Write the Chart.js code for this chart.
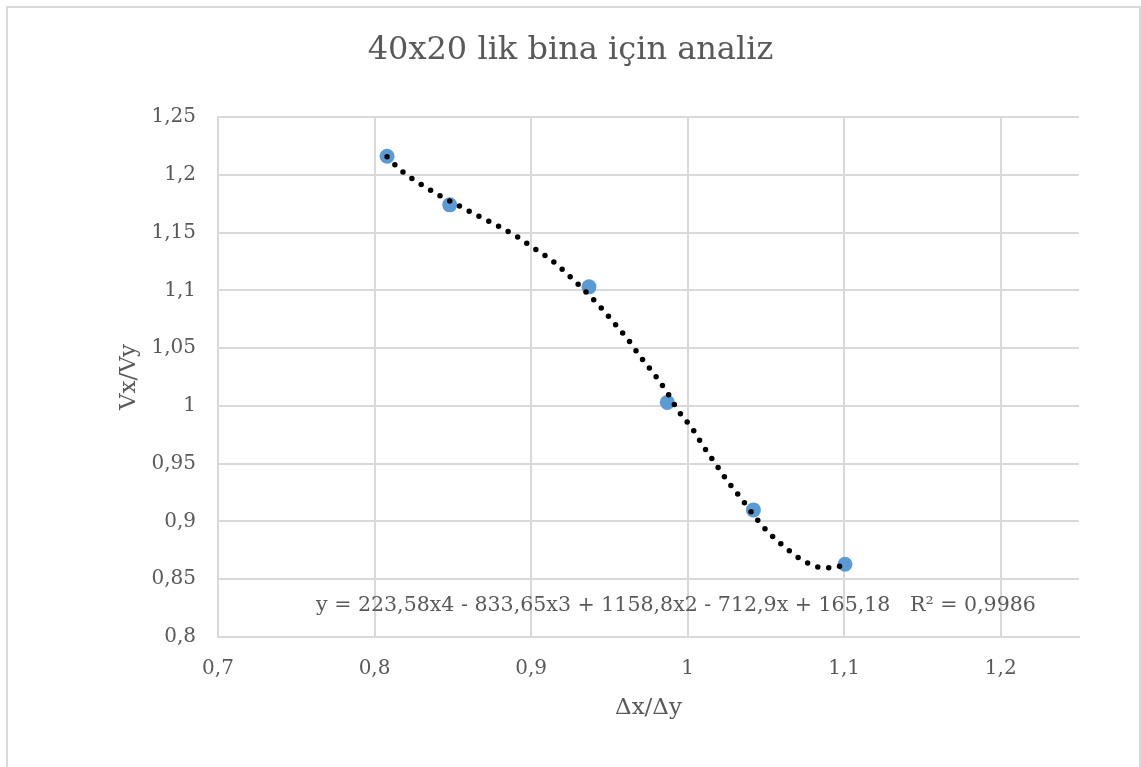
<!DOCTYPE html>
<html>
<head>
<meta charset="utf-8">
<script src="https://cdn.jsdelivr.net/npm/chart.js@4.4.1/dist/chart.umd.min.js"></script>
<style>
  html, body { margin: 0; padding: 0; background: #fff; }
  #wrap { position: relative; width: 1141px; height: 767px; overflow: hidden; }
  #frame { position: absolute; left: 6px; top: 6px; width: 1131px; height: 800px;
           border: 2px solid #d9d9d9; pointer-events: none; }
  canvas { position: absolute; left: 0; top: 0; }
</style>
</head>
<body>
<div id="wrap">
  <canvas id="chart" width="1141" height="767"></canvas>
  <div id="frame"></div>
</div>
<script>
"use strict";

//////// DATA ////////
const chart_title = '40x20 lik bina için analiz';
const x_title = 'Δx/Δy';
const y_title = 'Vx/Vy';
const trend_label = 'y = 223,58x4 - 833,65x3 + 1158,8x2 - 712,9x + 165,18   R² = 0,9986';

// measured points
const pts_x = [0.808, 0.848, 0.937, 0.987, 1.042, 1.1005];
const pts_y = [1.216, 1.174, 1.103, 1.003, 0.910, 0.863];

// trendline
const trend_x = [0.808, 0.818, 0.830, 0.842, 0.854, 0.866, 0.879, 0.891, 0.902, 0.914, 0.924,
                 0.934, 0.944, 0.953, 0.962, 0.970, 0.979, 0.987, 0.994, 1.003, 1.010, 1.018,
                 1.026, 1.035, 1.043, 1.052, 1.063, 1.074, 1.087, 1.094, 1.1005];
const trend_y = [1.2155, 1.2025, 1.1915, 1.1817, 1.1731, 1.1646, 1.1557, 1.1464, 1.1363, 1.125, 1.1129,
                 1.0999, 1.086, 1.0719, 1.0572, 1.0422, 1.0269, 1.0115, 0.9959, 0.9803, 0.9651, 0.9495,
                 0.934, 0.9185, 0.904, 0.890, 0.8767, 0.8659, 0.8599, 0.8602, 0.8631];

const x_min = 0.7, x_max = 1.25, x_step = 0.1;
const y_min = 0.8, y_max = 1.25, y_step = 0.05;

//////// HELPERS ////////
const FONT = "'DejaVu Serif', serif";
const TEXT_COLOR = '#595959';
const GRID_COLOR = '#d9d9d9';

function fmt(v) {
  return String(Number(v.toFixed(2))).replace('.', ',');
}

function to_xy(xs, ys) {
  return xs.map((x, i) => ({x: x, y: ys[i]}));
}

// equation text of the trendline, in the lower part of the plot
const trend_text_plugin = {
  id: 'trend_text',
  afterDatasetsDraw(chart) {
    const ctx = chart.ctx;
    const area = chart.chartArea;
    ctx.save();
    let size = 18;
    ctx.font = size + 'px ' + FONT;
    const w = ctx.measureText(trend_label).width;
    size = size * 720 / w;
    ctx.font = size.toFixed(2) + 'px ' + FONT;
    ctx.fillStyle = TEXT_COLOR;
    ctx.textAlign = 'left';
    ctx.textBaseline = 'middle';
    ctx.fillText(trend_label, area.left + 98, chart.scales.y.getPixelForValue(0.827));
    ctx.restore();
  }
};

//////// CHART ////////
const chart_ctx = document.getElementById('chart').getContext('2d');
const chart_config = {
  type: 'scatter',
  data: {
    datasets: [
      {
        label: 'trend',
        data: to_xy(trend_x, trend_y),
        showLine: true,
        borderColor: '#000',
        borderWidth: 5.5,
        borderDash: [0, 11],
        borderCapStyle: 'round',
        pointRadius: 0,
        cubicInterpolationMode: 'monotone',
        order: 0
      },
      {
        label: 'points',
        data: to_xy(pts_x, pts_y),
        showLine: false,
        pointRadius: 7.5,
        pointBackgroundColor: '#5b9bd5',
        pointBorderWidth: 0,
        order: 1
      }
    ]
  },
  options: {
    responsive: false,
    animation: false,
    layout: {
      padding: 0
    },
    scales: {
      x: {
        type: 'linear',
        min: x_min,
        max: x_max,
        afterFit: (scale) => { scale.height = 130; },
        afterBuildTicks: (scale) => {
          const t = [];
          for (let v = x_min; v <= x_max - 0.01; v += x_step) t.push({value: Number(v.toFixed(2))});
          scale.ticks = t;
        },
        ticks: {
          callback: (v) => fmt(v),
          color: TEXT_COLOR,
          font: {family: FONT, size: 20},
          padding: 20,
          maxRotation: 0
        },
        grid: {color: GRID_COLOR, lineWidth: 2, drawTicks: false},
        border: {color: GRID_COLOR, width: 2},
        title: {
          display: true,
          text: x_title,
          color: TEXT_COLOR,
          font: {family: FONT, size: 23},
          padding: {top: 0, bottom: 45}
        }
      },
      y: {
        type: 'linear',
        min: y_min,
        max: y_max,
        afterFit: (scale) => { scale.width = 218; },
        afterBuildTicks: (scale) => {
          const t = [];
          for (let v = y_min; v <= y_max + 0.001; v += y_step) t.push({value: Number(v.toFixed(2))});
          scale.ticks = t;
        },
        ticks: {
          callback: (v) => fmt(v),
          color: TEXT_COLOR,
          font: {family: FONT, size: 20},
          padding: 22
        },
        grid: {color: GRID_COLOR, lineWidth: 2, drawTicks: false},
        border: {color: GRID_COLOR, width: 2},
        title: {
          display: true,
          text: y_title,
          color: TEXT_COLOR,
          font: {family: FONT, size: 23},
          padding: {top: 115, bottom: 0}
        }
      },
      // empty box on the right, keeps the plot off the right edge
      spacer: {
        type: 'linear',
        position: 'right',
        display: true,
        afterFit: (scale) => { scale.width = 62; },
        grid: {display: false},
        border: {display: false},
        ticks: {display: false}
      }
    },
    plugins: {
      legend: {display: false},
      tooltip: {enabled: false},
      title: {
        display: true,
        text: chart_title,
        color: TEXT_COLOR,
        font: {family: FONT, size: 32, weight: 'normal'},
        padding: {top: 31, bottom: 47.6}
      }
    }
  },
  plugins: [trend_text_plugin]
};

const main_chart = new Chart(chart_ctx, chart_config);
</script>
</body>
</html>
